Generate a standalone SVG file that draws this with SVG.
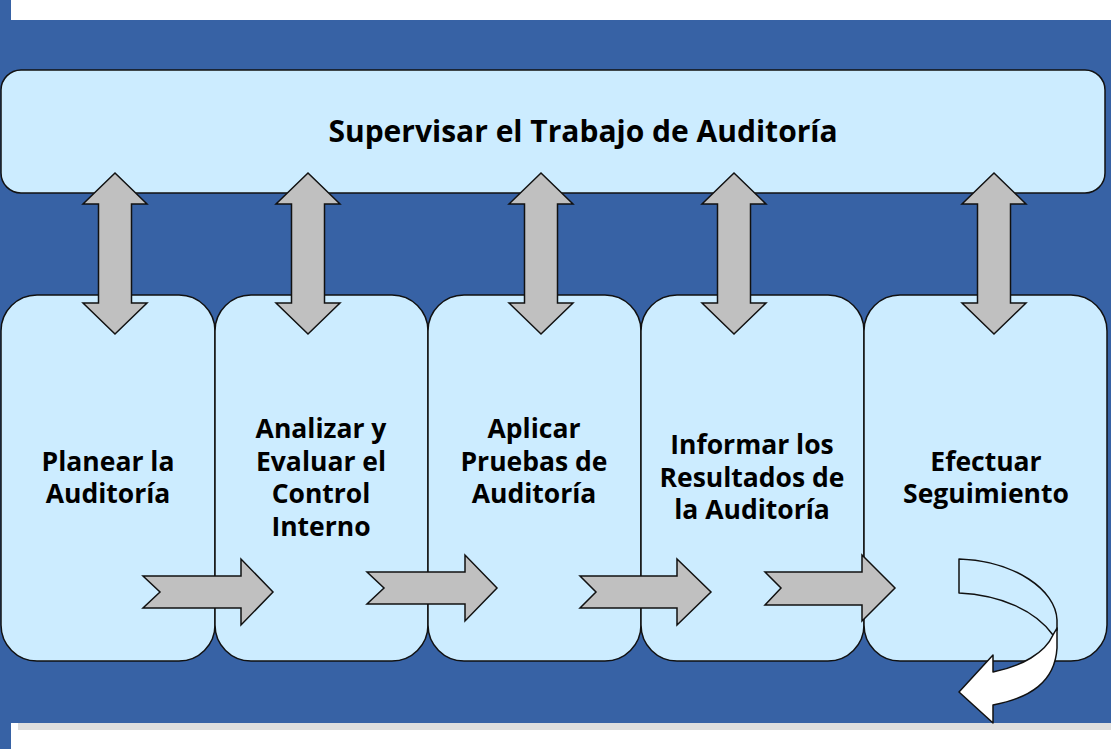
<svg xmlns="http://www.w3.org/2000/svg" width="1111" height="749" viewBox="0 0 1111 749">
<style>
.box{fill:#CCECFF;stroke:#111;stroke-width:1.5}
.arr{fill:#C0C0C0;stroke:#111;stroke-width:1.5;stroke-linejoin:miter}
.t{font-family:"Open Sans","Noto Sans","DejaVu Sans",sans-serif;font-weight:bold;fill:#000;text-anchor:middle}
.s{font-size:26.5px}
</style>
<rect x="0" y="0" width="1111" height="749" fill="#ffffff"/>
<rect x="0" y="20" width="1111" height="703" fill="#3762A5"/>
<rect x="0" y="0" width="11" height="749" fill="#3762A5"/>
<rect x="18" y="723" width="1093" height="7" fill="#DEDEDE"/>
<g id="top">
<rect class="box" x="1" y="70" width="1104" height="123" rx="20"/>
<text class="t" x="583" y="142" font-size="30">Supervisar el Trabajo de Auditoría</text>
</g>
<g id="n1">
<rect class="box" x="1" y="295" width="214" height="366" rx="36"/>
<text class="t s" x="108" y="471">Planear la</text>
<text class="t s" x="108" y="503">Auditoría</text>
</g>
<g id="n2">
<rect class="box" x="215" y="295" width="213" height="366" rx="36"/>
<text class="t s" x="321" y="438">Analizar y</text>
<text class="t s" x="321" y="471">Evaluar el</text>
<text class="t s" x="321" y="503">Control</text>
<text class="t s" x="321" y="536">Interno</text>
</g>
<g id="n3">
<rect class="box" x="428" y="295" width="213" height="366" rx="36"/>
<text class="t s" x="534" y="438">Aplicar</text>
<text class="t s" x="534" y="471">Pruebas de</text>
<text class="t s" x="534" y="503">Auditoría</text>
</g>
<g id="n4">
<rect class="box" x="641" y="295" width="223" height="366" rx="36"/>
<text class="t s" x="752" y="454">Informar los</text>
<text class="t s" x="752" y="487">Resultados de</text>
<text class="t s" x="752" y="519">la Auditoría</text>
</g>
<g id="n5">
<rect class="box" x="864" y="295" width="243" height="366" rx="36"/>
<text class="t s" x="986" y="471">Efectuar</text>
<text class="t s" x="986" y="503">Seguimiento</text>
</g>
<g id="connectors">
<defs>
<path id="dbl" d="M0,173 L32,204 L16.5,204 L16.5,303 L32,303 L0,334 L-32,303 L-16.5,303 L-16.5,204 L-32,204 Z"/>
</defs>
<use href="#dbl" class="arr" x="115"/>
<use href="#dbl" class="arr" x="308"/>
<use href="#dbl" class="arr" x="541"/>
<use href="#dbl" class="arr" x="734"/>
<use href="#dbl" class="arr" x="994"/>
<path class="arr" d="M143,576 L241,576 L241,559 L273,592 L241,625 L241,608 L143,608 L160,592 Z"/>
<path class="arr" d="M367,572 L465,572 L465,555 L497,588 L465,621 L465,604 L367,604 L384,588 Z"/>
<path class="arr" d="M580,576 L677,576 L677,559 L711,592 L677,625 L677,608 L580,608 L596,592 Z"/>
<path class="arr" d="M765,572 L862,572 L862,555 L895,588 L862,621 L862,605 L765,605 L781,588 Z"/>
<path d="M959,559 C1015,561 1056,590 1057,620 L1057,630 L1053,635 C1035,610 1000,595 959,593 Z" fill="#CCECFF" stroke="#111" stroke-width="1.5" stroke-linejoin="round"/>
<path d="M1053,635 L1057,628 L1057,648 C1055,682 1030,698 993,705 L993,723 L959,692 L993,655 L993,672 C1022,666 1045,653 1053,635 Z" fill="#ffffff" stroke="#111" stroke-width="1.5" stroke-linejoin="round"/>
</g>
</svg>
